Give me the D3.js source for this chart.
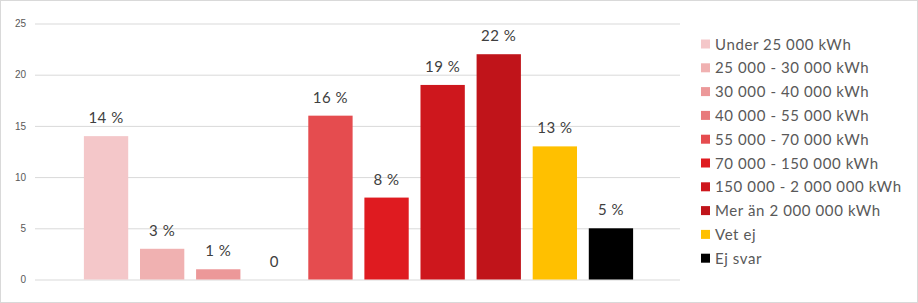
<!DOCTYPE html>
<html>
<head>
<meta charset="utf-8">
<script src="https://cdn.jsdelivr.net/npm/d3@7"></script>
<style>
	body { margin: 0; background: #fff; }
	#chart { width: 918px; height: 303px; }
</style>
</head>
<body>
<div id="chart"></div>
<script>
var categories = ["Under 25 000 kWh", "25 000 - 30 000 kWh", "30 000 - 40 000 kWh", "40 000 - 55 000 kWh",
	"55 000 - 70 000 kWh", "70 000 - 150 000 kWh", "150 000 - 2 000 000 kWh", "Mer än 2 000 000 kWh",
	"Vet ej", "Ej svar"];
var values = [14, 3, 1, 0, 16, 8, 19, 22, 13, 5];
var colors = ["#f4c7c9", "#f0b1b1", "#ec9899", "#e87a7c", "#e54c4f", "#df1b20", "#ce171d", "#c0141a", "#ffc000", "#000000"];
var yTicks = [0, 5, 10, 15, 20, 25];

var width = 918;
var height = 303;
var fontFam = "Lato, 'Open Sans', sans-serif";

var svg = d3.select('#chart')
	.append('svg')
	.attr('width', width)
	.attr('height', height);

// outer frame
svg.append('rect')
	.attr('x', 0.5).attr('y', 0.5)
	.attr('width', width - 1).attr('height', height - 1)
	.attr('fill', '#fff')
	.attr('stroke', '#d9d9d9');

var y = d3.scaleLinear().domain([0, 25]).range([279.5, 23.5]);

var x = d3.scaleBand()
	.domain(categories)
	.range([78, 639])
	.paddingInner(0.21)
	.paddingOuter(0.105);

var color = d3.scaleOrdinal().domain(categories).range(colors);

// gridlines + tick labels
var yAxis = d3.axisLeft(y)
	.tickValues(yTicks)
	.tickSize(-(680 - 35))
	.tickPadding(9);

var gAxis = svg.append('g')
	.attr('transform', 'translate(35,0)')
	.call(yAxis);
gAxis.select('.domain').remove();
gAxis.selectAll('.tick line').attr('stroke', '#d9d9d9');
gAxis.selectAll('.tick text')
	.attr('fill', '#595959')
	.style('font-family', "Arial, 'Liberation Sans', sans-serif")
	.style('font-size', '10px');

// bars
svg.selectAll('.bar')
	.data(values)
	.enter()
	.append('rect')
	.attr('class', 'bar')
	.attr('x', function(d, i) { return x(categories[i]); })
	.attr('y', function(d) { return y(d); })
	.attr('width', x.bandwidth())
	.attr('height', function(d) { return y(0) - y(d); })
	.attr('fill', function(d, i) { return color(categories[i]); });

// value labels
svg.selectAll('.lbl')
	.data(values)
	.enter()
	.append('text')
	.attr('class', 'lbl')
	.attr('x', function(d, i) { return x(categories[i]) + x.bandwidth() / 2; })
	.attr('y', function(d) { return y(d) - 13; })
	.attr('text-anchor', 'middle')
	.attr('fill', '#404040')
	.style('font-family', fontFam)
	.style('font-size', '15px')
	.style('letter-spacing', '0.5px')
	.text(function(d) { return d === 0 ? '0' : d + ' %'; });

// legend
var legend = svg.selectAll('.legend')
	.data(categories)
	.enter()
	.append('g')
	.attr('class', 'legend')
	.attr('transform', function(d, i) {
		return 'translate(701,' + (44 + i * 23.8) + ')';
	});

legend.append('rect')
	.attr('x', 0)
	.attr('y', -4.5)
	.attr('width', 9)
	.attr('height', 9)
	.attr('fill', color);

legend.append('text')
	.attr('x', 14)
	.attr('y', 5.5)
	.attr('fill', '#595959')
	.style('font-family', fontFam)
	.style('font-size', '15px')
	.style('letter-spacing', '0.6px')
	.text(function(d) { return d; });
</script>
</body>
</html>
